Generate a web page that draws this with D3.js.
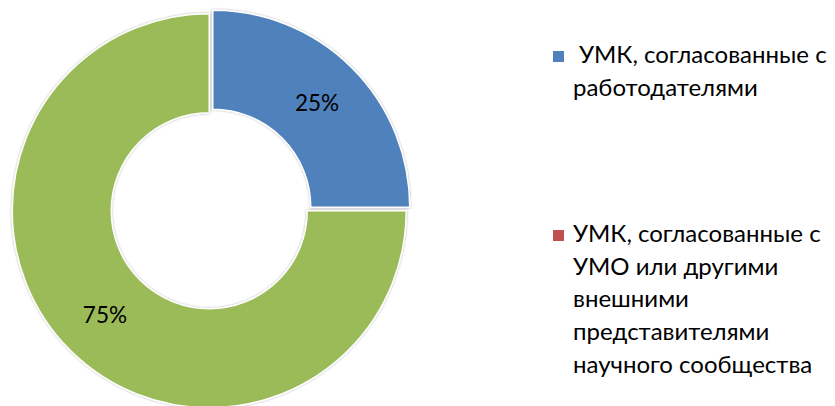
<!DOCTYPE html>
<html><head><meta charset="utf-8">
<script src="https://cdn.jsdelivr.net/npm/d3@7"></script>
<style>html,body{margin:0;padding:0;background:#fff;overflow:hidden}</style>
</head><body>
<svg id="chart" width="835" height="406"></svg>
<script>
const categories = ["УМК, согласованные с работодателями", "УМК, согласованные с УМО или другими внешними представителями научного сообщества", "Прочие"];
const values = [25, 0, 75];
const labels = ["25%", "", "75%"];
const colors = ["#4F81BD", "#C0504D", "#9BBB59"];
const legendLines = [["УМК, согласованные с", "работодателями"], ["УМК, согласованные с", "УМО или другими", "внешними", "представителями", "научного сообщества"]];

const svg = d3.select("#chart");
const cx = 211, cy = 209, rOuter = 197, rInner = 98, explode = 2.5;
const defs = svg.append("defs");
const f = defs.append("filter").attr("id","sh").attr("x","-10%").attr("y","-10%").attr("width","120%").attr("height","120%");
f.append("feDropShadow").attr("dx",0).attr("dy",0).attr("stdDeviation",1.2).attr("flood-color","#000").attr("flood-opacity",0.35);

const pie = d3.pie().sort(null).value(d => d)(values);
const arc = d3.arc().innerRadius(rInner).outerRadius(rOuter);
const g = svg.append("g").attr("transform", `translate(${cx},${cy})`);
const slices = g.selectAll("g.s").data(pie.filter(d => d.value > 0)).enter().append("g")
  .attr("transform", d => { const a = (d.startAngle + d.endAngle) / 2; return `translate(${explode*Math.sin(a)},${-explode*Math.cos(a)})`; });
slices.append("path").attr("d", arc).attr("fill", d => colors[d.index])
  .attr("stroke", "#fff").attr("stroke-width", 1.5).attr("filter","url(#sh)");
slices.append("text").attr("transform", d => `translate(${arc.centroid(d)})`)
  .attr("text-anchor","middle").attr("dy","0.36em")
  .style("font-family","Lato, 'Open Sans', sans-serif").style("font-size","22.5px").attr("fill","#000")
  .text(d => labels[d.index]);

const legendY = [63, 242];
const lg = svg.append("g");
legendLines.forEach((lines, i) => {
  lg.append("rect").attr("x", 553).attr("y", legendY[i] - 12).attr("width", 11).attr("height", 11).attr("fill", colors[i]);
  lines.forEach((t, j) => {
    lg.append("text").attr("x", (i === 0 && j === 0) ? 579 : 573).attr("y", legendY[i] + j * 32.7)
      .style("font-family","Lato, 'Open Sans', sans-serif").style("font-size","24px").attr("fill","#000").text(t);
  });
});
</script>
</body></html>
